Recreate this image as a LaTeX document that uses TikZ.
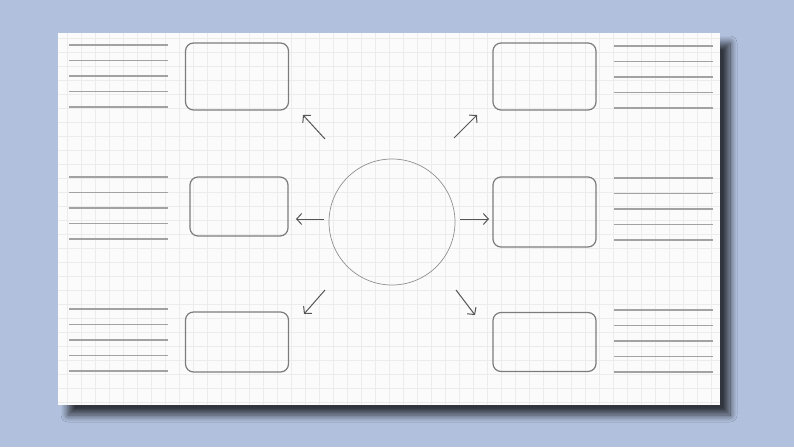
\documentclass[tikz,border=0pt]{standalone}
\usetikzlibrary{arrows.meta,shadows.blur}
\definecolor{bgblue}{HTML}{B0C0DD}
\definecolor{sheetwhite}{HTML}{FBFBFB}
\definecolor{gridgray}{HTML}{ECECEC}
\definecolor{boxgray}{HTML}{7C7C7C}
\definecolor{rulegray}{HTML}{A2A2A2}
\definecolor{arrowgray}{HTML}{555555}
\tikzset{
  sheet/.style={fill=sheetwhite,blur shadow={shadow xshift=10pt,shadow yshift=-10pt,shadow blur radius=7pt,shadow opacity=72,shadow blur steps=12}},
  gridline/.style={draw=gridgray,line width=0.5pt},
  ruleline/.style={draw=rulegray,line width=1.1pt},
  mapbox/.style={draw=boxgray,line width=1.2pt,rounded corners=8pt,inner sep=0pt,minimum width=103pt,minimum height=60pt},
  hub/.style={circle,draw=boxgray!85,line width=0.7pt,inner sep=0pt,minimum size=126pt},
  spoke/.style={draw=arrowgray,line width=1pt,-{Straight Barb[length=5pt,width=11pt]}}
}
\begin{document}
\begin{tikzpicture}[x=1pt,y=-1pt]
  \fill[bgblue] (0,0) rectangle (794,447);
  \useasboundingbox (0,0) rectangle (794,447);
  % sheet with grid
  \path[sheet] (58,33) rectangle (720,405);
  \foreach \gx in {67.3,81.3,...,720} \draw[gridline] (\gx,33) -- (\gx,405);
  \foreach \gy in {38.7,52.7,...,405} \draw[gridline] (58,\gy) -- (720,\gy);
  % writing lines
  \foreach \top in {45,177,309} {
    \foreach \k in {0,...,4} {
      \draw[ruleline] (69,\top+15.5*\k) -- (168,\top+15.5*\k);
      \draw[ruleline] (614,\top+1+15.5*\k) -- (713,\top+1+15.5*\k);
    }
  }
  % centre and boxes
  \node[hub] (hub) at (392,222) {};
  \node[mapbox,minimum height=67pt] (topleft) at (237,76.5) {};
  \node[mapbox,minimum height=67pt] (topright) at (544.5,76.5) {};
  \node[mapbox,minimum width=98pt,minimum height=59pt] (midleft) at (239,206.5) {};
  \node[mapbox,minimum height=70pt] (midright) at (544.5,212) {};
  \node[mapbox] (botleft) at (237,342) {};
  \node[mapbox,minimum height=59pt] (botright) at (544.5,342) {};
  % arrows
  \coordinate (ulA) at (325,139); \coordinate (ulB) at (303,115);
  \coordinate (urA) at (454,138); \coordinate (urB) at (477,115);
  \coordinate (lA) at (324,219);  \coordinate (lB) at (296,219);
  \coordinate (rA) at (460,219);  \coordinate (rB) at (489,219);
  \coordinate (llA) at (325,290); \coordinate (llB) at (304,314);
  \coordinate (lrA) at (456,290); \coordinate (lrB) at (475,315);
  \foreach \a/\b in {ulA/ulB,urA/urB,lA/lB,rA/rB,llA/llB,lrA/lrB}
    \draw[spoke] (\a) -- (\b);
\end{tikzpicture}
\end{document}
